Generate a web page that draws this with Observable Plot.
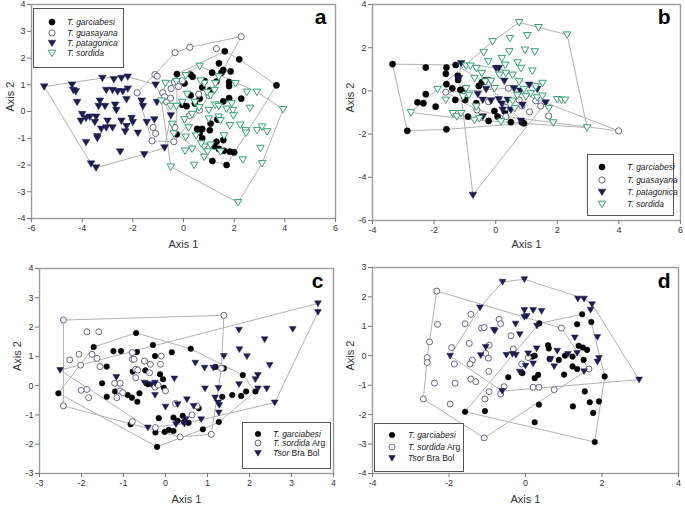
<!DOCTYPE html>
<html><head><meta charset="utf-8">
<script src="https://cdn.jsdelivr.net/npm/d3@7"></script>
<script src="https://cdn.jsdelivr.net/npm/@observablehq/plot@0.6"></script>
<style>
body{margin:0;background:#fff;}
#fig{position:relative;width:685px;height:505px;font-family:"Liberation Sans",Arial,sans-serif;overflow:hidden;}
#fig > svg{position:absolute;overflow:visible;}
</style></head><body><div id="fig"></div>
<script>
// ---------- Panel a ----------
const aGarciabesi = [[1.63,2.25],[2.2,1.95],[3.67,0.98],[1.4,1.8],[1.57,1.55],[1.86,1.5],[1.13,1.45],[1.8,1.1],[1.8,0.95],[-0.26,1.4],[0.28,1.38],[0.36,1.3],[0.83,1.15],[1.3,1.12],[0.04,1.05],[0.74,0.9],[1.05,0.8],[0.28,0.6],[0.64,0.48],[-0.05,0.25],[0.12,0.2],[0.45,0.3],[1.8,0.5],[2.28,0.48],[1.57,0.38],[0.54,-0.65],[0.74,-0.65],[0.64,-0.8],[0.74,-1.0],[1.07,-0.45],[1.04,-0.7],[1.3,-1.13],[1.57,-1.07],[1.22,-1.3],[1.4,-1.4],[1.6,-1.47],[1.83,-1.5],[2.0,-1.53],[1.14,-1.85],[1.7,-2.0],[-0.27,-0.85],[1.33,-0.3],[1.5,1.45]];
const aGuasayana = [[2.28,2.8],[1.3,2.35],[0.25,2.4],[-0.33,2.2],[-1.13,1.38],[-1.04,1.32],[-1.83,0.7],[-0.82,0.7],[-0.49,0.86],[-0.36,1.1],[-0.05,1.15],[-0.2,0.93],[-0.67,0.37],[-0.51,0.5],[-0.34,-0.6],[-1.2,-0.6],[-1.1,-0.82],[-1.24,-1.1],[-0.38,-1.13],[0.24,-0.15],[0.63,0.05],[1.0,0.6],[0.6,0.65],[-0.74,0.55]];
const aPatagonica = [[-5.5,0.93],[-4.4,1.0],[-4.35,0.8],[-4.25,0.75],[-3.2,1.25],[-2.75,1.2],[-2.45,1.25],[-2.2,1.3],[-3.05,0.8],[-2.8,0.8],[-2.6,0.75],[-2.4,0.75],[-2.2,0.85],[-3.3,0.4],[-3.35,0.2],[-3.1,0.2],[-2.7,0.25],[-2.65,0.05],[-2.25,0.45],[-1.65,0.4],[-1.6,0.2],[-1.05,0.35],[-4.2,0.35],[-4.0,-0.1],[-4.05,-0.35],[-3.85,-0.25],[-3.7,-0.2],[-3.45,-0.2],[-3.5,-0.4],[-3.0,-0.35],[-3.25,-0.65],[-3.05,-0.6],[-2.8,-0.6],[-2.45,-0.35],[-2.25,-0.55],[-2.3,-0.75],[-2.05,-0.25],[-2.0,-0.4],[-1.8,-0.8],[-1.45,-0.4],[-1.15,-0.3],[-3.4,-1.0],[-3.4,-0.93],[-3.85,-1.15],[-2.5,-1.5],[-1.55,-1.6],[-0.75,-1.35],[-3.65,-1.95],[-3.45,-2.1],[-1.1,1.0],[-0.5,-0.15]];
const aSordida = [[0.64,1.7],[1.39,1.3],[2.05,1.05],[2.5,0.73],[2.9,0.73],[3.93,0.08],[2.62,0.13],[1.95,0.05],[1.97,-0.15],[2.24,-0.5],[2.45,-0.7],[2.9,-0.7],[3.1,-0.57],[3.3,-0.75],[3.04,-1.37],[2.34,-1.8],[3.1,-1.94],[2.15,-3.4],[-0.5,-2.07],[0.42,-2.0],[0.06,-1.47],[0.34,-1.4],[0.09,-0.95],[0.5,-0.9],[0.82,-1.32],[0.95,-1.5],[0.82,-1.7],[1.46,-1.5],[1.07,-1.25],[0.7,-1.2],[-0.38,-0.83],[-0.45,-0.47],[0.04,-0.3],[0.34,-0.1],[1.0,-0.27],[1.39,-0.2],[1.46,-0.33],[1.83,-0.52],[2.47,-0.8],[1.0,0.05],[1.25,0.25],[1.39,0.2],[1.7,0.1],[1.07,0.6],[0.93,0.72],[1.22,0.8],[1.26,1.05],[0.82,1.05],[0.67,1.15],[0.09,1.35],[-0.28,1.13],[-0.71,1.06],[-0.87,0.4],[-0.51,0.2],[-0.28,0.2],[-0.05,0.35],[0.14,0.65],[0.45,0.35],[0.62,0.15],[0.2,-0.6],[1.6,-0.9],[1.9,0.3]];

// ---------- Panel b ----------
const bGarciabesi = [[-3.35,1.24],[-2.87,-1.85],[-1.6,-1.78],[-2.27,1.08],[-2.27,-0.15],[-2.54,-0.53],[-2.35,-0.57],[-1.95,-0.73],[-1.6,1.08],[-1.62,0.79],[-1.6,0.31],[-1.41,0.12],[-1.3,1.2],[-1.23,0.7],[-1.22,0.51],[-1.31,-0.42],[-1.01,0.12],[-0.99,-0.42],[-0.9,-1.19],[-0.63,-0.57],[-0.55,0.23],[-0.23,-1.39],[-0.04,-0.93],[0.49,-1.45],[0.85,-1.45],[0.92,-1.5],[-0.37,0.43],[0.06,-1.19],[-1.15,0.05],[-0.45,0.4],[0.3,-0.95]];
const bGuasayana = [[3.99,-1.85],[1.72,-1.16],[1.1,-0.97],[1.46,-0.7],[1.3,-0.46],[0.76,-0.42],[0.33,-1.19],[0.33,-0.77],[-0.23,-0.5],[-0.61,-0.88],[-1.62,-0.06],[0.41,0.12],[0.85,-0.7]];
const bPatagonica = [[-0.74,-4.82],[-1.12,1.28],[-1.19,0.59],[0.01,1.05],[0.1,1.05],[0.28,0.46],[-0.58,-0.15],[-0.31,0.08],[-0.42,-0.42],[-0.42,-1.19],[0.1,-0.39],[0.39,-0.42],[0.23,-0.88],[0.6,0.12],[0.8,0],[1.09,0.28],[1.35,0.08],[1.62,-0.54],[0.87,-0.65],[0.82,-1.39],[0.49,-0.88],[-0.3,0.5],[0.2,-0.6],[-0.15,-0.45]];
const bSordida = [[0.76,3.17],[1.39,2.94],[2.32,2.6],[1.03,2.57],[0.46,2.44],[-0.1,2.29],[0.44,1.82],[0.95,1.9],[1.27,1.82],[-0.39,1.78],[0.2,1.51],[0.71,1.31],[0.82,1.05],[1.19,0.93],[0.31,1.2],[-0.24,1.36],[-0.96,1.16],[-0.82,1.16],[-0.63,1.05],[-0.45,0.82],[-0.69,0.59],[-0.33,0.43],[-0.15,0.46],[0.12,0.74],[0.33,0.82],[0.55,0.74],[0.76,0.43],[0.92,0.08],[1.52,0.36],[1.14,-0.11],[1.35,-0.31],[1.52,-0.23],[2.0,-0.39],[2.14,-0.42],[2.25,-0.42],[1.73,-0.8],[1.87,-1.47],[2.97,-1.7],[-2.75,-1.0],[-1.89,0.08],[-1.62,-0.42],[-1.39,-1.04],[-1.26,-1.19],[-1.12,-1.04],[-0.69,-1.35],[-0.53,-1.27],[0.17,-1.42],[-0.96,0.12],[-1.06,-0.26],[-0.87,-0.19],[-0.63,-0.73],[-0.04,0.12],[0.55,-0.46],[0.62,-0.8],[0.98,-0.26],[0.7,-0.2],[1.3,0.2]];

// ---------- Panel c ----------
const cGarciabesi = [[-2.55,-0.26],[-1.71,1.32],[-1.4,0.65],[-1.4,-0.38],[-1.51,0.08],[-1.24,1.18],[-1.06,1.18],[-0.7,1.8],[-0.68,1.15],[-0.78,0.48],[-1.2,-0.2],[-0.9,-0.32],[-0.8,-0.41],[-0.67,-0.55],[-0.83,-1.32],[-0.62,-0.26],[-0.42,0.05],[-0.3,1.39],[-0.25,1.01],[-0.48,0.52],[-0.13,0.39],[-0.06,0.22],[-0.04,-0.07],[0.15,1.14],[0.6,1.26],[-0.16,-1.11],[-0.24,-1.6],[-0.2,-2.09],[-0.02,-1.58],[0.08,-1.51],[0.19,-1.09],[0.19,-1.55],[0.29,-1.2],[0.41,-1.03],[0.44,-1.24],[0.55,-1.27],[0.89,-1.49],[0.79,-0.77],[1.19,0.64],[1.39,0.59],[1.59,-0.32],[1.8,-0.35],[1.84,0.36],[1.92,-0.2],[2.14,-0.2],[1.27,-1.24],[1.35,-0.38]];
const cSordidaArg = [[-2.43,2.24],[1.39,2.4],[-2.43,-0.69],[-1.87,1.84],[-1.59,1.84],[-2.28,0.88],[-2.06,1.07],[-2.02,0.7],[-1.75,1.07],[-1.63,0.93],[-1.56,0.65],[-2.01,-0.16],[-1.87,-0.13],[-1.83,-0.41],[-1.21,0.08],[-1.08,0.08],[-1.08,-0.18],[-1.02,-0.24],[-1.16,-0.41],[-0.79,1.13],[-0.79,0.9],[-0.75,0.9],[-0.71,0.56],[-0.66,0.53],[-0.71,0.27],[-0.5,0.84],[-0.36,0.73],[-0.38,0.44],[-0.1,1.01],[-0.12,0.73],[-0.25,-0.05],[-0.18,0.02],[0.0,-0.18],[-0.24,-1.43],[0.24,-0.61],[0.35,-1.75],[0.63,-1.0],[1.09,-1.66],[1.33,0.59],[-0.79,-1.23],[0.75,-0.7]];
const cTsorBraBol = [[3.63,2.81],[3.63,2.51],[3.03,1.93],[2.36,1.58],[1.75,1.91],[1.76,1.24],[1.94,1.0],[1.39,1.01],[0.71,0.78],[1.14,0.61],[0.93,0.61],[2.48,0.7],[2.2,0.36],[2.14,0.22],[1.75,0.05],[2.2,-0.1],[2.41,-0.1],[2.6,-0.58],[0.94,-0.1],[1.26,-0.08],[1.18,-0.41],[1.25,-0.58],[1.28,-0.66],[1.27,-0.92],[0.67,-0.7],[0.51,-0.47],[0.21,0.24],[0.0,-0.72],[0.29,-0.64],[0.48,-1.15],[0.45,-1.3],[0.25,-1.32],[0.85,-1.15],[-0.25,-0.32],[-0.25,0.1],[-0.5,0.1],[-1.17,0.29],[-0.42,-1.43],[-2.51,0.53],[-0.34,0.05]];

// ---------- Panel d ----------
const dGarciabesi = [[1.48,1.41],[1.35,1.07],[1.72,1.15],[0.36,1.1],[0.59,0.36],[0.61,0.25],[0.18,-0.03],[0.24,0.0],[0.87,-0.14],[1.03,0.0],[1.23,-0.03],[1.23,-0.36],[1.35,-0.45],[1.39,0.34],[1.5,0.28],[1.61,0.2],[1.52,-0.14],[1.01,-0.64],[0.24,-0.76],[0.33,-0.65],[-0.08,-0.59],[-0.45,-0.73],[0.35,-1.66],[0.24,-2.26],[-1.06,-1.88],[-1.58,-1.9],[1.24,-1.72],[1.55,-1.21],[1.68,-1.58],[1.92,-1.55],[1.77,-1.94],[1.81,-2.93],[2.07,-0.7],[0.63,-0.11]];
const dSordidaArg = [[-2.32,2.2],[-2.3,1.07],[-2.51,0.47],[-2.57,-0.06],[-2.57,-0.23],[-2.67,-1.47],[-2.38,-0.93],[-1.97,-1.64],[-1.84,-0.93],[-1.86,-0.28],[-1.93,0.28],[-1.58,1.09],[-1.43,1.41],[-1.47,0.42],[-1.39,-0.15],[-1.45,-0.28],[-1.43,-0.79],[-1.3,-0.88],[-1.15,0.94],[-1.08,0.96],[-1.04,0.08],[-0.97,-0.08],[-0.95,0.36],[-0.96,-0.53],[-0.95,-1.22],[-1.06,-1.47],[-1.08,-2.79],[-0.69,1.24],[-0.65,1.09],[-0.38,0.68],[-0.32,0.23],[-0.56,-1.05],[-0.65,-1.3],[-0.1,-0.28],[0.07,-0.06],[0.2,-1.07],[0.35,-1.07],[0.75,-1.15],[0.94,0.94],[1.66,-0.45]];
const dTsorBraBol = [[-0.03,2.6],[-0.6,2.51],[-1.19,1.64],[1.37,1.94],[1.53,1.94],[1.74,1.75],[1.7,1.56],[1.88,0.64],[1.92,-0.08],[1.88,-0.2],[2.97,-0.81],[1.53,-0.53],[1.29,0.62],[1.35,0.09],[1.11,0.06],[0.83,0.17],[0.66,-0.11],[0.75,-0.36],[0.29,0.25],[0.2,-0.26],[0.07,0.08],[0.0,-0.34],[-0.15,-0.54],[-0.25,0.03],[-0.34,0.06],[-0.5,0.03],[-0.26,1.09],[-0.15,0.73],[-0.03,1.55],[-0.03,1.32],[0.03,1.35],[0.2,1.55],[0.42,1.52],[0.3,1.02],[-0.83,0.88],[-0.8,0.85],[-1.04,0.3],[-1.17,0.02],[-1.97,0.0],[-0.61,-1.2]];

// ---------- styles ----------
const NAVY = "#1c1c4e", GREEN = "#35a070", OPEN = "#66668a";
const triDown = {draw(ctx, size){ const r = Math.sqrt(size/Math.PI); ctx.moveTo(-r,-0.75*r); ctx.lineTo(r,-0.75*r); ctx.lineTo(0,0.95*r); ctx.closePath(); }};
const S = {
  filled: {symbol:"circle", r:3.1, fill:"#000", stroke:"#000", sw:0.5},
  open:   {symbol:"circle", r:3.1, fill:"#fff", stroke:OPEN, sw:1},
  navyT:  {symbol:triDown, r:3.8, fill:NAVY, stroke:NAVY, sw:0.5},
  greenT: {symbol:triDown, r:3.8, fill:"#fff", stroke:GREEN, sw:1}
};
const fig = document.getElementById("fig");
const FONT = "Liberation Sans, Arial, sans-serif";

function panel(cfg){
  const rows = cfg.series.flatMap(s => s.pts.map(([x,y]) => ({x, y, sp: s.name})));
  const marks = [
    Plot.hull(rows, {x:"x", y:"y", z:"sp", stroke:"#b2b2b2", strokeWidth:1}),
    ...cfg.series.map(s => Plot.dot(s.pts, {x:d=>d[0], y:d=>d[1], symbol:s.st.symbol, r:s.st.r, fill:s.st.fill, stroke:s.st.stroke, strokeWidth:s.st.sw})),
    Plot.frame({stroke:"#9c9c9c", strokeWidth:1.4}),
    Plot.axisX({ticks:cfg.xTicks, tickSize:4, tickPadding:2, fontSize:9, tickFormat:d=>String(d), stroke:"#777", label:null}),
    Plot.axisY({ticks:cfg.yTicks, tickSize:4, tickPadding:2, fontSize:9, tickFormat:d=>String(d), stroke:"#777", label:null}),
    Plot.text(["Axis 1"], {frameAnchor:"bottom", dy:cfg.xl, fontSize:11, fill:"#333", text:d=>d}),
    Plot.text(["Axis 2"], {frameAnchor:"left", dx:cfg.yl, rotate:-90, fontSize:11, fill:"#333", text:d=>d}),
    Plot.text([cfg.letter], {frameAnchor:"top-right", textAnchor:"end", lineAnchor:"bottom", dx:cfg.ldx, dy:cfg.ldy, fontSize:21, fontWeight:"bold", fill:"#000", text:d=>d})
  ];
  const svg = Plot.plot({
    width:cfg.w, height:cfg.h,
    marginLeft:cfg.m[0], marginTop:cfg.m[1], marginRight:cfg.m[2], marginBottom:cfg.m[3],
    x:{domain:cfg.xd}, y:{domain:cfg.yd},
    style:{fontFamily:FONT, color:"#333", background:"transparent", overflow:"visible"},
    marks
  });
  svg.style.left = cfg.left + "px"; svg.style.top = cfg.top + "px";
  fig.append(svg);
  // legend
  const L = cfg.legend;
  const lg = d3.select(fig).append("svg")
    .style("position","absolute").style("left", L.x+"px").style("top", L.y+"px")
    .attr("width", L.w+2).attr("height", L.h+2);
  lg.append("rect").attr("x",0.5).attr("y",0.5).attr("width",L.w).attr("height",L.h)
    .attr("fill","#fff").attr("stroke","#555").attr("stroke-width",1);
  L.items.forEach((it, i) => {
    const y = L.rows[i];
    const st = it.st;
    const sym = typeof st.symbol === "string" ? d3.symbolCircle : st.symbol;
    lg.append("path").attr("transform", `translate(${L.sx},${y})`)
      .attr("d", d3.symbol(sym, Math.PI*st.r*st.r)())
      .attr("fill", st.fill).attr("stroke", st.stroke).attr("stroke-width", st.sw);
    const t = lg.append("text").attr("x", L.tx).attr("y", y).attr("dy","0.35em")
      .attr("font-size", 8.5).attr("font-family", FONT).attr("fill","#222");
    t.append("tspan").attr("font-style","italic").text(it.it);
    if (it.rest) t.append("tspan").text(it.rest);
  });
}

panel({left:0, top:0, w:340, h:250, m:[31,4,5,32], xd:[-6,6], yd:[-4,4],
  xTicks:[-6,-4,-2,0,2,4,6], yTicks:[-4,-3,-2,-1,0,1,2,3,4], xl:29, yl:-21, letter:"a", ldx:-9, ldy:19,
  series:[{name:"g", pts:aGarciabesi, st:S.filled},{name:"u", pts:aGuasayana, st:S.open},{name:"p", pts:aPatagonica, st:S.navyT},{name:"s", pts:aSordida, st:S.greenT}],
  legend:{x:33, y:8, w:90, h:59, sx:19, tx:34, rows:[14,25,35,45],
    items:[{it:"T. garciabesi", st:S.filled},{it:"T. guasayana", st:S.open},{it:"T. patagonica", st:S.navyT},{it:"T. sordida", st:S.greenT}]}});

panel({left:340, top:0, w:345, h:250, m:[32,4,5,30], xd:[-4,6], yd:[-6,4],
  xTicks:[-4,-2,0,2,4,6], yTicks:[-6,-4,-2,0,2,4], xl:27, yl:-22, letter:"b", ldx:-10, ldy:19,
  series:[{name:"g", pts:bGarciabesi, st:S.filled},{name:"u", pts:bGuasayana, st:S.open},{name:"p", pts:bPatagonica, st:S.navyT},{name:"s", pts:bSordida, st:S.greenT}],
  legend:{x:587, y:154, w:86, h:61, sx:15, tx:40, rows:[13,26,38,50],
    items:[{it:"T. garciabesi", st:S.filled},{it:"T. guasayana", st:S.open},{it:"T. patagonica", st:S.navyT},{it:"T. sordida", st:S.greenT}]}});

const smallF = {symbol:"circle", r:2.8, fill:"#000", stroke:"#000", sw:0.5};
const smallO = {symbol:"circle", r:3, fill:"#fff", stroke:OPEN, sw:1};
const smallT = {symbol:triDown, r:3.4, fill:NAVY, stroke:NAVY, sw:0.5};

panel({left:0, top:250, w:340, h:255, m:[39,18,7,32], xd:[-3,4], yd:[-3,4],
  xTicks:[-3,-2,-1,0,1,2,3,4], yTicks:[-3,-2,-1,0,1,2,3,4], xl:29, yl:-22, letter:"c", ldx:-10, ldy:19,
  series:[{name:"g", pts:cGarciabesi, st:smallF},{name:"s", pts:cSordidaArg, st:smallO},{name:"t", pts:cTsorBraBol, st:smallT}],
  legend:{x:242, y:422, w:88, h:46, sx:16, tx:31, rows:[12,21,31],
    items:[{it:"T. garciabesi", st:smallF},{it:"T. sordida", rest:" Arg", st:smallO},{it:"Tsor", rest:" Bra Bol", st:smallT}]}});

panel({left:340, top:250, w:345, h:255, m:[32,17,7,32], xd:[-4,4], yd:[-4,3],
  xTicks:[-4,-2,0,2,4], yTicks:[-4,-3,-2,-1,0,1,2,3], xl:29, yl:-22, letter:"d", ldx:-8, ldy:20,
  series:[{name:"g", pts:dGarciabesi, st:smallF},{name:"s", pts:dSordidaArg, st:smallO},{name:"t", pts:dTsorBraBol, st:smallT}],
  legend:{x:374, y:423, w:89, h:48, sx:18, tx:34, rows:[12,24,35],
    items:[{it:"T. garciabesi", st:smallF},{it:"T. sordida", rest:" Arg", st:smallO},{it:"Tsor", rest:" Bra Bol", st:smallT}]}});
</script></body></html>
